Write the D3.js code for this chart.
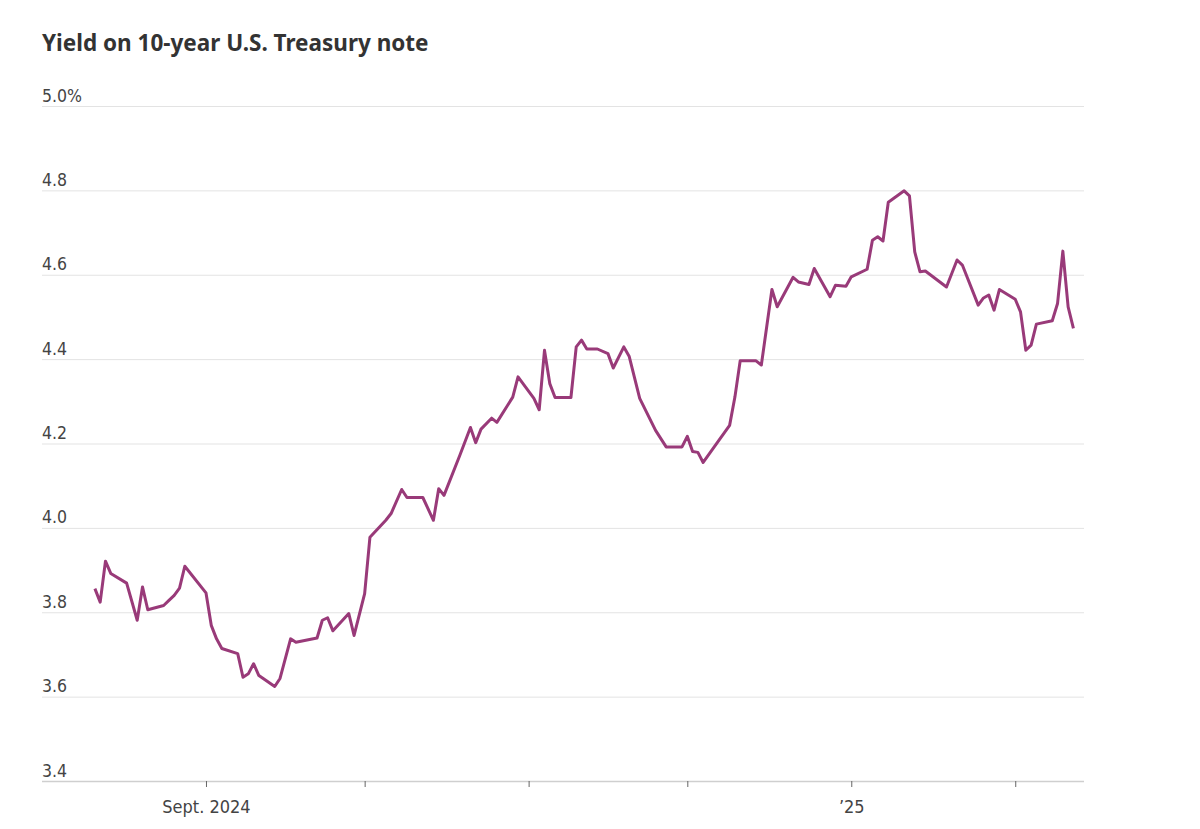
<!DOCTYPE html>
<html>
<head>
<meta charset="utf-8">
<script src="https://cdn.jsdelivr.net/npm/d3@7"></script>
<style>
  html, body { margin: 0; padding: 0; background: #fff; }
  svg { display: block; }
</style>
</head>
<body>
<svg id="chart" width="1200" height="829"></svg>
<script>
const title = "Yield on 10-year U.S. Treasury note";

const dates = [
  "2024-08-11","2024-08-12","2024-08-13","2024-08-14","2024-08-17","2024-08-19","2024-08-20","2024-08-21",
  "2024-08-24","2024-08-25","2024-08-26","2024-08-27","2024-08-28","2024-09-01","2024-09-02","2024-09-03",
  "2024-09-04","2024-09-07","2024-09-08","2024-09-09","2024-09-10","2024-09-11","2024-09-14","2024-09-15",
  "2024-09-17","2024-09-18","2024-09-22","2024-09-23","2024-09-24","2024-09-25","2024-09-28","2024-09-29",
  "2024-10-01","2024-10-02","2024-10-05","2024-10-06","2024-10-08","2024-10-09","2024-10-12","2024-10-14",
  "2024-10-15","2024-10-16","2024-10-19","2024-10-21","2024-10-22","2024-10-23","2024-10-25","2024-10-26",
  "2024-10-29","2024-10-30","2024-11-02","2024-11-03","2024-11-04","2024-11-05","2024-11-06","2024-11-09",
  "2024-11-10","2024-11-11","2024-11-12","2024-11-14","2024-11-16","2024-11-17","2024-11-19","2024-11-20",
  "2024-11-22","2024-11-25","2024-11-27","2024-11-30","2024-12-01","2024-12-02","2024-12-03","2024-12-04",
  "2024-12-07","2024-12-09","2024-12-10","2024-12-11","2024-12-14","2024-12-15","2024-12-17","2024-12-18",
  "2024-12-21","2024-12-22","2024-12-24","2024-12-25","2024-12-28","2024-12-29","2024-12-31","2025-01-01",
  "2025-01-04","2025-01-05","2025-01-06","2025-01-07","2025-01-08","2025-01-11","2025-01-12","2025-01-13",
  "2025-01-14","2025-01-15","2025-01-19","2025-01-21","2025-01-22","2025-01-25","2025-01-26","2025-01-27",
  "2025-01-28","2025-01-29","2025-02-01","2025-02-02","2025-02-03","2025-02-04","2025-02-05","2025-02-08",
  "2025-02-09","2025-02-10","2025-02-11","2025-02-12"
];

const yields = [
  3.856,3.824,3.921,3.892,3.869,3.781,3.860,3.806,
  3.816,3.828,3.840,3.857,3.909,3.846,3.769,3.737,
  3.714,3.702,3.646,3.654,3.678,3.650,3.624,3.643,
  3.737,3.729,3.739,3.781,3.787,3.756,3.797,3.745,
  3.844,3.978,4.018,4.034,4.091,4.072,4.072,4.018,
  4.093,4.077,4.172,4.238,4.202,4.234,4.260,4.250,
  4.310,4.358,4.307,4.280,4.421,4.342,4.309,4.309,
  4.429,4.445,4.424,4.424,4.413,4.379,4.429,4.407,
  4.307,4.231,4.192,4.192,4.217,4.181,4.179,4.155,
  4.208,4.243,4.310,4.396,4.396,4.386,4.565,4.524,
  4.594,4.583,4.577,4.615,4.548,4.575,4.573,4.595,
  4.613,4.682,4.690,4.680,4.772,4.799,4.787,4.654,
  4.607,4.609,4.571,4.635,4.623,4.528,4.545,4.552,
  4.516,4.565,4.542,4.512,4.421,4.433,4.483,4.491,
  4.532,4.656,4.524,4.473
];

const yTicks = [3.4, 3.6, 3.8, 4.0, 4.2, 4.4, 4.6, 4.8, 5.0];
const yTickLabels = ["3.4", "3.6", "3.8", "4.0", "4.2", "4.4", "4.6", "4.8", "5.0%"];
const xDomain = ["2024-08-01", "2025-02-14"];
const xTicks = ["2024-09-01", "2024-10-01", "2024-11-01", "2024-12-01", "2025-01-01", "2025-02-01"];
const xTickLabels = ["Sept. 2024", "", "", "", "\u201925", ""];

const parse = d3.timeParse("%Y-%m-%d");
const data = dates.map((d, i) => ({ date: parse(d), value: yields[i] }));

const svg = d3.select("#chart");
const mLeft = 42, mRight = 1084, mTop = 106, mBottom = 781;

const x = d3.scaleTime().domain(xDomain.map(parse)).range([mLeft, mRight]);
const y = d3.scaleLinear().domain([3.4, 5.0]).range([mBottom, mTop]);

// Title
svg.append("text")
  .attr("x", mLeft).attr("y", 51)
  .attr("font-family", "'Noto Sans', 'Open Sans', sans-serif")
  .attr("font-weight", 700)
  .attr("font-size", 22.5)
  .attr("fill", "#333")
  .text(title);

// Gridlines + y labels
const yAxis = d3.axisLeft(y).tickValues(yTicks).tickSize(0)
  .tickFormat((d, i) => yTickLabels[i]);
const gy = svg.append("g").attr("transform", `translate(${mLeft},0)`).call(yAxis);
gy.select(".domain").remove();
gy.selectAll(".tick text")
  .attr("x", 0).attr("dy", "-5")
  .attr("text-anchor", "start")
  .attr("font-family", "'DejaVu Sans Condensed', 'DejaVu Sans', sans-serif")
  .attr("font-stretch", "condensed")
  .attr("font-size", 17.5)
  .attr("fill", "#444");
gy.selectAll(".tick").append("line")
  .attr("x1", 0).attr("x2", mRight - mLeft)
  .attr("stroke", d => d === 3.4 ? "#cfcfcf" : "#e3e3e3")
  .attr("stroke-width", d => d === 3.4 ? 1.5 : 1);

// x axis ticks and labels
const xAxis = d3.axisBottom(x).tickValues(xTicks.map(parse)).tickSize(6)
  .tickFormat((d, i) => xTickLabels[i]);
const gx = svg.append("g").attr("transform", `translate(0,${mBottom})`).call(xAxis);
gx.select(".domain").remove();
gx.selectAll(".tick line").attr("stroke", "#666").attr("stroke-width", 1);
gx.selectAll(".tick text")
  .attr("y", 19)
  .attr("dy", "0.71em")
  .attr("font-family", "'DejaVu Sans Condensed', 'DejaVu Sans', sans-serif")
  .attr("font-stretch", "condensed")
  .attr("font-size", 18)
  .attr("fill", "#444");

// Line
const line = d3.line().x(d => x(d.date)).y(d => y(d.value));
svg.append("path")
  .datum(data)
  .attr("fill", "none")
  .attr("stroke", "#993a79")
  .attr("stroke-width", 3)
  .attr("stroke-linejoin", "round")
  .attr("d", line);
</script>
</body>
</html>
